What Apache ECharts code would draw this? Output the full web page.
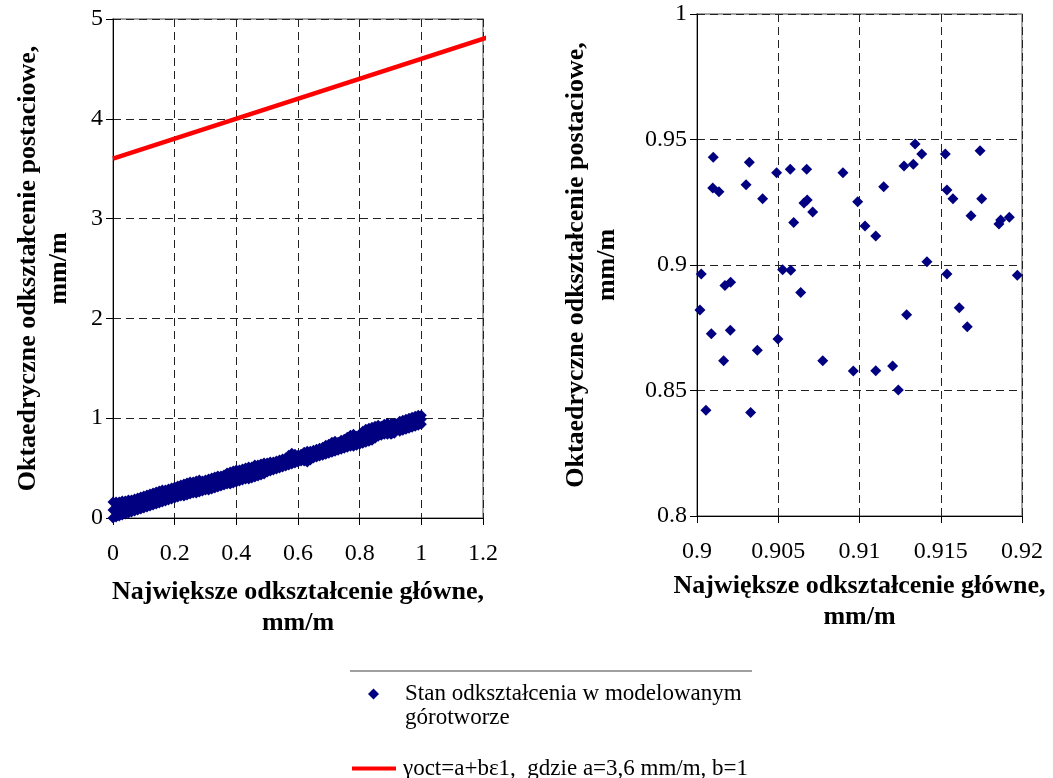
<!DOCTYPE html>
<html>
<head>
<meta charset="utf-8">
<script src="https://cdn.jsdelivr.net/npm/echarts@6/dist/echarts.min.js"></script>
<style>
html,body{margin:0;padding:0;background:#fff;}
#chart{width:1053px;height:778px;}
</style>
</head>
<body>
<div id="chart"></div>
<script>
// ---------- DATA ----------
const pointsName = 'Stan odkształcenia w modelowanym górotworze';
const lineName = 'γoct=a+bε1,  gdzie a=3,6 mm/m, b=1';

// Left panel: dense band of states, read as [x, lowest y, middle y, highest y] per x column
const bandRows = [
  [0.00,0.00,0.08,0.16],[0.01,0.01,0.09,0.16],[0.02,0.02,0.09,0.16],[0.03,0.03,0.10,0.17],
  [0.04,0.04,0.11,0.17],[0.05,0.05,0.12,0.18],[0.06,0.06,0.12,0.18],[0.07,0.07,0.13,0.19],
  [0.08,0.08,0.14,0.20],[0.09,0.09,0.15,0.21],[0.10,0.10,0.16,0.22],[0.11,0.11,0.17,0.23],
  [0.12,0.12,0.18,0.24],[0.13,0.13,0.19,0.25],[0.14,0.14,0.20,0.26],[0.15,0.15,0.21,0.27],
  [0.16,0.16,0.22,0.28],[0.17,0.17,0.22,0.28],[0.18,0.18,0.23,0.29],[0.19,0.19,0.24,0.30],
  [0.20,0.20,0.25,0.31],[0.21,0.21,0.26,0.32],[0.22,0.22,0.27,0.33],[0.23,0.22,0.28,0.34],
  [0.24,0.23,0.29,0.35],[0.25,0.24,0.30,0.36],[0.26,0.25,0.30,0.36],[0.27,0.25,0.31,0.37],
  [0.28,0.26,0.32,0.38],[0.29,0.27,0.32,0.37],[0.30,0.28,0.33,0.38],[0.31,0.28,0.34,0.39],
  [0.32,0.29,0.35,0.40],[0.33,0.30,0.36,0.41],[0.34,0.31,0.37,0.42],[0.35,0.32,0.37,0.42],
  [0.36,0.33,0.38,0.43],[0.37,0.34,0.39,0.45],[0.38,0.34,0.40,0.46],[0.39,0.35,0.41,0.47],
  [0.40,0.36,0.42,0.48],[0.41,0.37,0.43,0.48],[0.42,0.38,0.44,0.49],[0.43,0.39,0.45,0.50],
  [0.44,0.39,0.45,0.51],[0.45,0.40,0.46,0.51],[0.46,0.41,0.47,0.53],[0.47,0.42,0.48,0.53],
  [0.48,0.43,0.49,0.54],[0.49,0.44,0.50,0.55],[0.50,0.46,0.51,0.55],[0.51,0.47,0.52,0.56],
  [0.52,0.48,0.52,0.56],[0.53,0.49,0.53,0.57],[0.54,0.50,0.54,0.58],[0.55,0.51,0.55,0.59],
  [0.56,0.52,0.56,0.60],[0.57,0.53,0.58,0.63],[0.58,0.54,0.59,0.65],[0.59,0.55,0.60,0.64],
  [0.60,0.56,0.60,0.63],[0.61,0.57,0.61,0.64],[0.62,0.57,0.62,0.66],[0.63,0.56,0.62,0.67],
  [0.64,0.58,0.63,0.67],[0.65,0.60,0.64,0.68],[0.66,0.61,0.65,0.69],[0.67,0.62,0.66,0.70],
  [0.68,0.63,0.67,0.71],[0.69,0.64,0.68,0.73],[0.70,0.65,0.69,0.74],[0.71,0.66,0.71,0.76],
  [0.72,0.67,0.72,0.77],[0.73,0.68,0.72,0.76],[0.74,0.69,0.73,0.78],[0.75,0.70,0.74,0.79],
  [0.76,0.71,0.76,0.81],[0.77,0.72,0.77,0.83],[0.78,0.72,0.78,0.84],[0.79,0.73,0.77,0.82],
  [0.80,0.74,0.79,0.84],[0.81,0.75,0.81,0.87],[0.82,0.76,0.82,0.89],[0.83,0.77,0.83,0.90],
  [0.84,0.78,0.85,0.91],[0.85,0.80,0.86,0.92],[0.86,0.82,0.87,0.93],[0.87,0.83,0.87,0.92],
  [0.88,0.84,0.89,0.94],[0.89,0.84,0.90,0.95],
  [0.93,0.87,0.92,0.97],[0.94,0.88,0.93,0.98],[0.95,0.89,0.94,0.99],[0.96,0.90,0.95,1.00],
  [0.97,0.91,0.96,1.01],[0.98,0.92,0.97,1.02],[0.99,0.93,0.98,1.03],[1.00,0.94,0.99,1.03]
];

// Right panel (zoom of the same data between 0.9 and 0.92)
const zoomPoints = [
  [0.90100,0.9429],[0.90322,0.9409],[0.90490,0.9368],[0.90574,0.9381],[0.90675,0.9381],
  [0.90898,0.9368],[0.90097,0.9307],[0.90135,0.9292],[0.90302,0.9320],[0.90404,0.9264],
  [0.90658,0.9247],[0.90678,0.9259],[0.90712,0.9211],[0.90595,0.9169],[0.90989,0.9252],
  [0.90026,0.8964],[0.90527,0.8981],[0.90577,0.8979],[0.90172,0.8918],[0.90207,0.8931],
  [0.90638,0.8890],[0.90018,0.8821],[0.90088,0.8726],[0.90205,0.8740],[0.90498,0.8705],
  [0.90371,0.8660],[0.90164,0.8619],[0.90774,0.8619],[0.90962,0.8578],[0.90055,0.8421],
  [0.90330,0.8412],[0.91342,0.9482],[0.91383,0.9442],[0.91528,0.9442],[0.91742,0.9455],
  [0.91274,0.9394],[0.91331,0.9401],[0.91149,0.9312],[0.91538,0.9299],[0.91575,0.9264],
  [0.91752,0.9264],[0.91686,0.9196],[0.91034,0.9155],[0.91100,0.9116],[0.91858,0.9163],
  [0.91869,0.9179],[0.91922,0.9190],[0.91415,0.9013],[0.91538,0.8964],[0.91971,0.8959],
  [0.91290,0.8802],[0.91614,0.8830],[0.91663,0.8754],[0.91100,0.8579],[0.91204,0.8598],
  [0.91239,0.8502]
];

// Criterion line γoct = 3.6 + ε1
const limitLine = [[0, 3.6], [1.22, 4.82]];

// Axis ranges / ticks
const leftX = {min: 0, max: 1.2, step: 0.2};
const leftY = {min: 0, max: 5, step: 1};
const rightX = {min: 0.9, max: 0.92, step: 0.005};
const rightY = {min: 0.8, max: 1, step: 0.05};

const xTitle = 'Największe odkształcenie główne,\nmm/m';
const yTitle = 'Oktaedryczne odkształcenie postaciowe,\nmm/m';

// ---------- BUILD ----------
const bandPoints = [];
bandRows.forEach(r => { bandPoints.push([r[0], r[1]], [r[0], r[2]], [r[0], r[3]]); });
const allPoints = bandPoints.concat(zoomPoints);

const FONT = '"Liberation Serif", "Times New Roman", serif';
const NAVY = '#000080';

function axisBase(range, isX) {
  return {
    type: 'value', min: range.min, max: range.max, interval: range.step,
    axisLine: {show: true, onZero: false, lineStyle: {color: '#000', width: 1}},
    axisTick: {show: true, length: 7, lineStyle: {color: '#000'}},
    axisLabel: {color: '#000', fontFamily: FONT, fontSize: 24, margin: isX ? 24 : 10},
    splitLine: {show: true, lineStyle: {color: '#222', type: [8, 5], width: 1}},
    nameLocation: 'middle',
    nameTextStyle: {fontFamily: FONT, fontSize: 26, fontWeight: 'bold', color: '#000', lineHeight: 31}
  };
}

const chart = echarts.init(document.getElementById('chart'), null, {renderer: 'canvas'});
chart.setOption({
  animation: false,
  backgroundColor: '#fff',
  grid: [
    {left: 113, top: 19, width: 370, height: 499, show: true, borderColor: '#888', borderWidth: 1.5},
    {left: 697, top: 14, width: 325, height: 502, show: true, borderColor: '#888', borderWidth: 1.5}
  ],
  xAxis: [
    Object.assign(axisBase(leftX, true), {gridIndex: 0, name: xTitle, nameGap: 59}),
    Object.assign(axisBase(rightX, true), {gridIndex: 1, name: xTitle, nameGap: 55})
  ],
  yAxis: [
    Object.assign(axisBase(leftY, false), {gridIndex: 0, name: yTitle, nameGap: 38}),
    Object.assign(axisBase(rightY, false), {gridIndex: 1, name: yTitle, nameGap: 74})
  ],
  legend: [
    {
      data: [pointsName], left: 363, top: 653, orient: 'vertical',
      icon: 'diamond', itemWidth: 11, itemHeight: 11,
      selectedMode: false,
      formatter: () => '\nStan odkształcenia w modelowanym\ngórotworze',
      textStyle: {fontFamily: FONT, fontSize: 23, color: '#000', lineHeight: 24, padding: [0, 0, 0, 21]}
    },
    {
      data: [{name: lineName, itemStyle: {color: '#ff0000'}, lineStyle: {color: '#ff0000'}}],
      left: 347, top: 752, orient: 'vertical',
      icon: 'rect', itemWidth: 44, itemHeight: 4,
      selectedMode: false,
      itemStyle: {color: '#ff0000'},
      textStyle: {fontFamily: FONT, fontSize: 23, color: '#000', padding: [0, 0, 0, 2]}
    }
  ],
  graphic: [
    {type: 'line', shape: {x1: 350, y1: 671, x2: 752, y2: 671}, style: {stroke: '#808080', lineWidth: 1.5}, silent: true}
  ],
  series: [
    {
      name: pointsName, type: 'scatter', xAxisIndex: 0, yAxisIndex: 0,
      data: allPoints, symbol: 'diamond', symbolSize: 11,
      itemStyle: {color: NAVY, opacity: 1}, z: 3
    },
    {
      name: lineName, type: 'line', xAxisIndex: 0, yAxisIndex: 0,
      data: limitLine, showSymbol: false, symbol: 'none', clip: false,
      lineStyle: {color: '#ff0000', width: 4.5}, itemStyle: {color: '#ff0000'}, z: 4
    },
    {
      name: pointsName, type: 'scatter', xAxisIndex: 1, yAxisIndex: 1,
      data: zoomPoints, symbol: 'diamond', symbolSize: 11,
      itemStyle: {color: NAVY, opacity: 1}, z: 3
    }
  ]
});
</script>
</body>
</html>
